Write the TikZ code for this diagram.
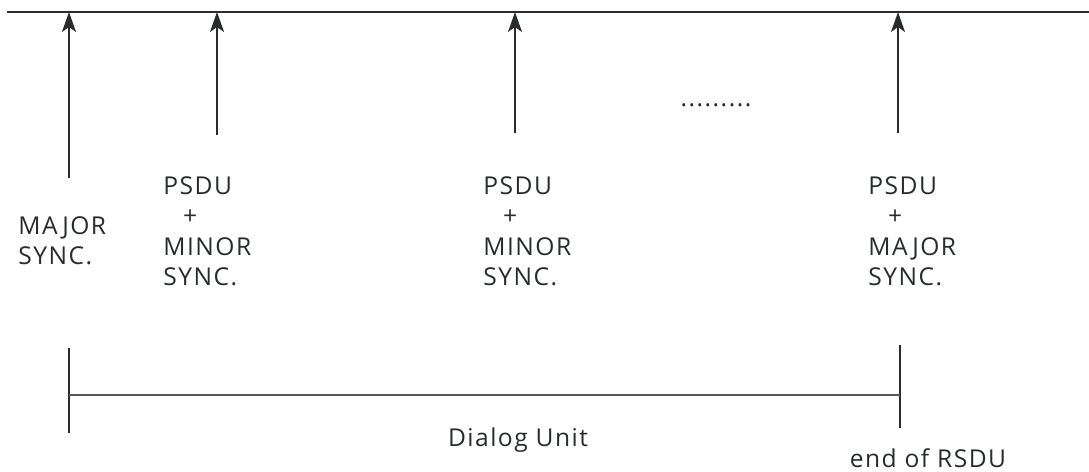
\documentclass[tikz,border=0pt]{standalone}
\usepackage{fontspec}
\newfontfamily\lblfont[LetterSpace=6]{Open Sans}
\usepackage{tikz}
\usetikzlibrary{arrows.meta, positioning}
\definecolor{inkdark}{RGB}{40, 44, 44}

\tikzset{
  syncarrow/.style={line width=1pt, draw=inkdark, -{Stealth[length=4mm, width=2.8mm, inset=1mm]}},
  syncbar/.style={line width=0.8pt, draw=inkdark},
  synclabel/.style={anchor=north west, align=left, inner sep=0pt, text=inkdark,
    font=\lblfont\fontsize{14}{17.4}\selectfont},
}

\begin{document}
\begin{tikzpicture}[x=0.02cm, y=-0.02cm]
        \useasboundingbox (0,0) rectangle (1089,471);

        % ── Time axis at the top ─────────────────────────────────────────
        \coordinate (axisL) at (7,12);
        \coordinate (axisR) at (1089,12);
        \draw[line width=1pt, inkdark] (axisL) -- (axisR);

        % ── Sync points pointing up to the axis ─────────────────────────
        \foreach \nm/\x/\y in {majA/69/178, minA/217/135, minB/515/133, majB/898/133}{
        	\coordinate (\nm-tail) at (\x,\y);
        	\coordinate (\nm-tip) at (\x,12);
        	\draw[syncarrow] (\nm-tail) -- (\nm-tip);
        }

        % ── Labels under the arrows ─────────────────────────────────────
        \node[synclabel] (majAlbl) at (18,216) {MAJOR\\SYNC.};
        \node[synclabel] (minAlbl) at (163,176) {PSDU\\\hspace*{0.8em}+\\MINOR\\SYNC.};
        \node[synclabel] (minBlbl) at (483,176) {PSDU\\\hspace*{0.8em}+\\MINOR\\SYNC.};
        \node[synclabel] (majBlbl) at (868,176) {PSDU\\\hspace*{0.8em}+\\MAJOR\\SYNC.};

        % ── More sync points in between ─────────────────────────────────
        \node[synclabel, anchor=base] (more) at (716,106) {.........};

        % ── Dialog unit span ────────────────────────────────────────────
        \coordinate (duL-top) at (69,348);
        \coordinate (duL-bot) at (69,433);
        \coordinate (duR-top) at (900,345);
        \coordinate (duR-bot) at (900,428);
        \coordinate (duL) at (69,395);
        \coordinate (duR) at (900,395);
        \draw[syncbar] (duL-top) -- (duL-bot);
        \draw[syncbar] (duR-top) -- (duR-bot);
        \draw[line width=1.2pt, inkdark!80] (duL) -- (duR);

        \node[synclabel, anchor=center] (dulbl) at (518,440) {Dialog Unit};
        \node[synclabel, anchor=center] (endlbl) at (928,458) {end of RSDU};
      \end{tikzpicture}
\end{document}
